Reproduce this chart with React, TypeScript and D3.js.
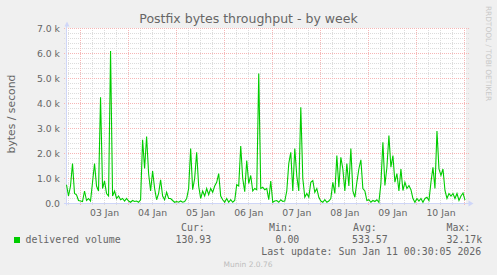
import React from 'react';
import * as d3 from 'd3';

const W = 497;
const H = 275;

// hourly averages (bytes / second), first value at 02 Jan 17:00 UTC
const delivered = [
  750, 300, 700, 1600, 400, 350, 120, 100, 80, 500,
  120, 200, 100, 850, 1600, 700, 500, 4250, 600, 900,
  400, 300, 6100, 300, 500, 200, 300, 150, 200, 100,
  200, 100, 50, 120, 80, 100, 50, 150, 2550, 1400,
  2680, 1200, 500, 1300, 600, 150, 400, 950, 300, 150,
  450, 200, 200, 120, 50, 80, 50, 100, 50, 80,
  200, 600, 2200, 550, 1000, 2050, 700, 200, 500, 300,
  600, 350, 600, 450, 700, 850, 1200, 300, 150, 50,
  200, 50, 150, 50, 120, 750, 700, 2300, 1000, 470,
  1720, 800, 1120, 500, 600, 550, 5200, 600, 650, 550,
  600, 150, 900, 50, 100, 120, 50, 150, 80, 100,
  500, 1600, 2050, 500, 2200, 1100, 500, 3850, 1000, 250,
  400, 250, 850, 920, 450, 600, 250, 100, 50, 150,
  50, 100, 200, 850, 400, 1920, 650, 1850, 1380, 500,
  1600, 700, 2200, 500, 250, 850, 1380, 1750, 600, 500,
  120, 150, 50, 120, 80, 150, 50, 800, 2450, 720,
  1450, 2720, 1450, 1920, 850, 1200, 500, 1380, 520, 850,
  600, 720, 550, 200, 50, 200, 100, 200, 50, 200,
  250, 120, 850, 1450, 600, 2900, 1380, 1120, 1380, 520,
  200, 400, 300, 400, 200, 400, 120, 300, 420, 131,
];

const yTicks = [0, 1000, 2000, 3000, 4000, 5000, 6000, 7000];
const yTickLabels = ['0.0', '1.0 k', '2.0 k', '3.0 k', '4.0 k', '5.0 k', '6.0 k', '7.0 k'];
const dayLabels = ['03 Jan', '04 Jan', '05 Jan', '06 Jan', '07 Jan', '08 Jan', '09 Jan', '10 Jan'];

const legendHeaders = ['Cur:', 'Min:', 'Avg:', 'Max:'];
const legendValues = ['130.93', '0.00', '533.57', '32.17k'];

const title = 'Postfix bytes throughput - by week';
const yTitle = 'bytes / second';
const seriesName = 'delivered volume';
const lastUpdate = 'Last update: Sun Jan 11 00:30:05 2026';

const HOUR = 3600 * 1000;
const tStart = Date.UTC(2026, 0, 2, 16, 30);
const tEnd = Date.UTC(2026, 0, 11, 0, 30);
const firstSample = Date.UTC(2026, 0, 2, 17, 0);

const FONT = '#666666';
const SANS = '"DejaVu Sans", sans-serif';
const MONO = '"DejaVu Sans Mono", monospace';

export default function App() {
  const x = d3.scaleUtc().domain([tStart, tEnd]).range([65.5, 466]);
  const y = d3.scaleLinear().domain([0, 7000]).range([203.5, 28.5]);

  const line = d3
    .line<number>()
    .x((_, i) => x(firstSample + i * HOUR))
    .y((d) => y(d));

  const minorY = d3.range(0, 7001, 200).filter((v) => v % 1000 !== 0);
  const sixHours = d3.utcHour.every(6)!.range(new Date(tStart), new Date(tEnd));
  const minorX = sixHours.filter((d) => d.getUTCHours() !== 0);
  const days = d3.utcDay.range(new Date(tStart), new Date(tEnd));
  const noons = days.map((d) => new Date(d.getTime() + 12 * HOUR));

  const px = (v: number) => Math.floor(v) + 0.5;
  const left = 64;
  const right = 469;
  const top = 26;
  const bottom = 205.5;

  const headerX = [181, 269, 353, 446.5];
  const valueX = [175.5, 275.5, 352, 446.5];

  return (
    <svg
      width={W}
      height={H}
      style={{ position: 'absolute', left: 0, top: 0, display: 'block' }}
      xmlns="http://www.w3.org/2000/svg"
    >
      <rect x={0} y={0} width={W} height={H} fill="#F0F0F0" />
      <rect x={66} y={28} width={400} height={176} fill="#FFFFFF" />

      {/* minor grid */}
      <g stroke="#dcdcdc" strokeWidth={1} strokeDasharray="1,1">
        {minorY.map((v) => (
          <line key={'my' + v} x1={left} x2={right} y1={px(y(v))} y2={px(y(v))} />
        ))}
        {minorX.map((d) => (
          <line key={'mx' + d.getTime()} x1={px(x(d))} x2={px(x(d))} y1={top + 2} y2={bottom} />
        ))}
      </g>
      {/* major grid */}
      <g stroke="#f6b6b6" strokeWidth={1} strokeDasharray="1,1">
        {yTicks.map((v) => (
          <line key={'My' + v} x1={left} x2={right} y1={px(y(v))} y2={px(y(v))} />
        ))}
        {days.map((d) => (
          <line key={'Mx' + d.getTime()} x1={px(x(d))} x2={px(x(d))} y1={top + 2} y2={bottom} />
        ))}
      </g>

      {/* axes */}
      <g stroke="#CFD6F8" strokeWidth={1} fill="none">
        <line x1={66.5} x2={66.5} y1={bottom} y2={24} />
        <line x1={left} x2={470} y1={203.5} y2={203.5} />
      </g>
      <path d="M64.5,26.5 L69.5,26.5 L67,21.5 Z" fill="#CFD6F8" />
      <path d="M468.5,200.5 L468.5,206.5 L473.5,203.5 Z" fill="#CFD6F8" />

      {/* data */}
      <path d={line(delivered) || ''} fill="none" stroke="#00CC00" strokeWidth={1.1} strokeLinejoin="miter" />

      {/* y tick labels */}
      <g fontFamily={SANS} fontSize={9.3} fill={FONT} textAnchor="end">
        {yTicks.map((v, i) => (
          <text key={'yl' + v} x={60} y={y(v) + 3.4}>
            {yTickLabels[i]}
          </text>
        ))}
      </g>
      {/* x labels */}
      <g fontFamily={SANS} fontSize={9.3} fill={FONT} textAnchor="middle">
        {noons.map((d, i) => (
          <text key={'xl' + i} x={x(d)} y={215.5}>
            {dayLabels[i]}
          </text>
        ))}
      </g>

      {/* title */}
      <text x={248.5} y={23} textAnchor="middle" fontFamily={SANS} fontSize={12.5} fill={FONT}>
        {title}
      </text>
      <text
        transform="translate(14.5,114) rotate(-90)"
        textAnchor="middle"
        fontFamily={SANS}
        fontSize={10.8}
        fill={FONT}
      >
        {yTitle}
      </text>
      <text
        transform="translate(485.5,53.5) rotate(90)"
        textAnchor="middle"
        fontFamily={SANS}
        fontSize={7.4}
        fill="#c8c8c8"
      >
        RRDTOOL / TOBI OETIKER
      </text>

      {/* legend */}
      <g fontFamily={MONO} fontSize={9.9} fill={FONT}>
        {legendHeaders.map((h, i) => (
          <text key={'lh' + i} x={headerX[i]} y={230.5}>
            {h}
          </text>
        ))}
        <text x={25.5} y={242.5}>
          {seriesName}
        </text>
        {legendValues.map((v, i) => (
          <text key={'lv' + i} x={valueX[i]} y={242.5}>
            {v}
          </text>
        ))}
        <text x={261.2} y={254.5}>
          {lastUpdate}
        </text>
      </g>
      <rect x={14} y={237} width={6} height={6} fill="#00CC00" />

      <text x={248} y={267} textAnchor="middle" fontFamily={SANS} fontSize={7.5} fill="#bdbdbd">
        Munin 2.0.76
      </text>
    </svg>
  );
}
